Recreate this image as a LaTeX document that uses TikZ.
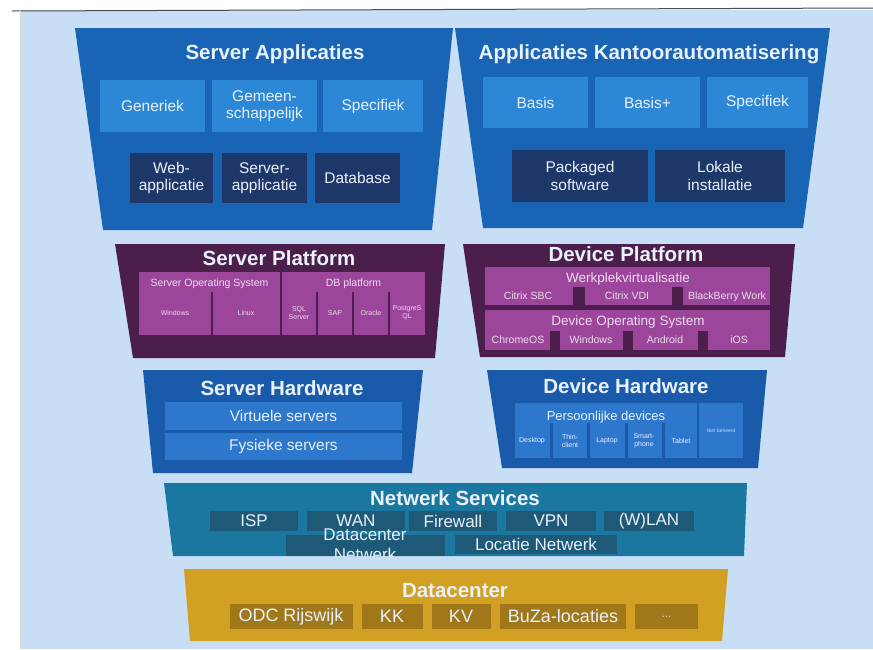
\documentclass[tikz,border=0pt]{standalone}
\usepackage{fontspec}
\setmainfont{Liberation Sans}
\definecolor{slidebg}{HTML}{C8DEF5}
\definecolor{appblue}{HTML}{1964B4}
\definecolor{applight}{HTML}{2D87D7}
\definecolor{appdark}{HTML}{1E3769}
\definecolor{platcol}{HTML}{4B1E4B}
\definecolor{platcell}{HTML}{9B469B}
\definecolor{hwblue}{HTML}{1A5AAA}
\definecolor{hwcell}{HTML}{2D78CD}
\definecolor{netcol}{HTML}{1A78A0}
\definecolor{netcell}{HTML}{1E5A78}
\definecolor{dccol}{HTML}{D2A023}
\definecolor{dccell}{HTML}{A07819}
\definecolor{txt}{HTML}{E9F1FB}
\definecolor{pinktxt}{HTML}{EEDCEE}

\begin{document}
\begin{tikzpicture}[x=1pt,y=-1pt,
   lyrtitle/.style={anchor=base,inner sep=0pt,text=txt,font=\bfseries\fontsize{20.5}{22}\selectfont},
   cell/.style={inner sep=0pt,align=center,text=txt,font=\fontsize{15.5}{17.5}\selectfont},
   plathead/.style={anchor=base,inner sep=0pt,text=pinktxt,font=\fontsize{#1}{#1}\selectfont},
   smalllbl/.style={inner sep=0pt,align=center,text=#1,font=\fontsize{7}{8}\selectfont},
   netlbl/.style={cell,fill=netcell,minimum height=20,font=\fontsize{17}{20}\selectfont},
   dclbl/.style={cell,fill=dccell,minimum height=25,font=\fontsize{18}{20}\selectfont}]
   \useasboundingbox (0,0) rectangle (873,649);
   % slide background
   \fill[white] (0,0) rectangle (873,649);
   \fill[slidebg] (20,10) rectangle (873,649);
   \draw[black!70,line width=1pt] (12,11) -- (873,8);
   \draw[black!15] (20,10) -- (20,649);

   % server applicaties
   \fill[appblue] (75,28) -- (453,28) -- (432,230) -- (103,230) -- cycle;
   \node[lyrtitle] (satitle) at (275,59) {Server Applicaties};
   \node[cell,fill=applight,minimum width=105,minimum height=52] (gen) at (152.5,106) {Generiek};
   \node[cell,fill=applight,minimum width=105,minimum height=52] (gem) at (264.5,106) {Gemeen-\\schappelijk};
   \node[cell,fill=applight,minimum width=100,minimum height=52] (saspec) at (373,106) {Specifiek};
   \node[cell,fill=appdark,minimum width=83,minimum height=50] (web) at (171.5,178) {Web-\\applicatie};
   \node[cell,fill=appdark,minimum width=85,minimum height=50] (srvapp) at (264.5,178) {Server-\\applicatie};
   \node[cell,fill=appdark,minimum width=85,minimum height=50] (db) at (357.5,178) {Database};

   % applicaties kantoorautomatisering
   \fill[appblue] (455,28) -- (830,28) -- (803,228) -- (483,228) -- cycle;
   \node[lyrtitle] (aktitle) at (649,59) {Applicaties Kantoorautomatisering};
   \node[cell,fill=applight,minimum width=105,minimum height=51] (basis) at (535.5,102.5) {Basis};
   \node[cell,fill=applight,minimum width=105,minimum height=51] (basisplus) at (647.5,102.5) {Basis+};
   \node[cell,fill=applight,minimum width=101,minimum height=51] (akspec) at (757.5,102.5) {Specifiek};
   \node[cell,fill=appdark,minimum width=136,minimum height=52] (packaged) at (580,176) {Packaged\\software};
   \node[cell,fill=appdark,minimum width=130,minimum height=52] (lokaal) at (720,176) {Lokale\\installatie};

   % server platform
   \fill[platcol] (115,244) -- (445,244) -- (435,358) -- (133,358) -- cycle;
   \node[lyrtitle] (sptitle) at (279,265) {Server Platform};
   \node[cell,fill=platcell,minimum width=141,minimum height=63] (sos) at (209.5,303.5) {};
   \node[cell,fill=platcell,minimum width=143,minimum height=63] (dbp) at (353.5,303.5) {};
   \node[plathead=10.5] (soshead) at (209.5,286) {Server Operating System};
   \node[plathead=10.5] (dbhead) at (353.5,286) {DB platform};
   \foreach \x in {212,317,353,389}
      \draw[platcol,line width=2.5pt] (\x,292) -- (\x,335);
   \foreach \x/\t in {175/Windows,246/Linux,299/{SQL\\Server},335/SAP,371/Oracle,407/{PostgreS\\QL}}
      \node[smalllbl=pinktxt] (sp-\x) at (\x,313) {\t};

   % device platform
   \fill[platcol] (463,244) -- (795,244) -- (785,357) -- (480,357) -- cycle;
   \node[lyrtitle] (dptitle) at (626,261) {Device Platform};
   \node[cell,fill=platcell,minimum width=285,minimum height=38] (wpv) at (627.5,286) {};
   \node[cell,fill=platcell,minimum width=285,minimum height=40] (dos) at (627.5,330) {};
   \node[plathead=13.5] (wpvhead) at (628,282) {Werkplekvirtualisatie};
   \node[plathead=13.5] (doshead) at (628,325) {Device Operating System};
   \foreach \a/\b in {573/585,672/683}
      \fill[platcol] (\a,287) rectangle (\b,305);
   \foreach \a/\b in {550/560,623/633,698/708}
      \fill[platcol] (\a,331) rectangle (\b,350);
   \foreach \x/\t in {528/Citrix SBC,627/Citrix VDI,727/BlackBerry Work}
      \node[plathead=10.5] (vw-\x) at (\x,299) {\t};
   \foreach \x/\t in {518/ChromeOS,591/Windows,665/Android,739/iOS}
      \node[plathead=10.5] (os-\x) at (\x,343) {\t};

   % server hardware
   \fill[hwblue] (143,370) -- (423,370) -- (412,473) -- (153,473) -- cycle;
   \node[lyrtitle] (shtitle) at (282,395) {Server Hardware};
   \node[cell,fill=hwcell,minimum width=237,minimum height=28] (virt) at (283.5,416) {Virtuele servers};
   \node[cell,fill=hwcell,minimum width=237,minimum height=27] (fys) at (283.5,446.5) {Fysieke servers};

   % device hardware
   \fill[hwblue] (487,370) -- (767,370) -- (758,468) -- (502,468) -- cycle;
   \node[lyrtitle] (dhtitle) at (626,393) {Device Hardware};
   \node[cell,fill=hwcell,minimum width=182,minimum height=55] (pers) at (606,430.5) {};
   \node[plathead=13,text=txt] (pershead) at (606,420) {Persoonlijke devices};
   \foreach \x in {551.5,588.5,626,663}
      \draw[hwblue,line width=3pt] (\x,423) -- (\x,458);
   \foreach \x/\t in {532/Desktop,570/{Thin-\\client},607/Laptop,644/{Smart-\\phone},681/Tablet}
      \node[smalllbl=txt] (dev-\x) at (\x,441) {\t};
   \node[cell,fill=hwcell,minimum width=44,minimum height=55,font=\fontsize{5}{6}\selectfont,text=txt!80!hwcell] (nietbeheerd) at (721,430.5) {Niet beheerd};

   % netwerk services
   \fill[netcol] (164,483) -- (747,483) -- (744,556) -- (173,556) -- cycle;
   \node[lyrtitle] (nstitle) at (455,505) {Netwerk Services};
   \foreach \x/\w/\t in {254/88/ISP,356/98/WAN,453/88/Firewall,551/90/VPN,649/90/(W)LAN}
      \node[netlbl,minimum width=\w] (net-\x) at (\x,521) {\t};
   \node[netlbl,minimum width=159,minimum height=21] (dcnet) at (365.5,545.5) {};
   \node[netlbl,minimum width=162,minimum height=19] (locnet) at (536,544.5) {Locatie Netwerk};
   \begin{scope}
      \clip (164,483) -- (747,483) -- (744,556) -- (173,556) -- cycle;
      \node[cell,font=\fontsize{17}{20}\selectfont] (dcnettext) at (365,544.5) {Datacenter\\Netwerk};
   \end{scope}

   % datacenter
   \fill[dccol] (184,569) -- (728,569) -- (722,641) -- (190,641) -- cycle;
   \node[lyrtitle] (dctitle) at (455,597) {Datacenter};
   \foreach \x/\w/\t in {291/123/ODC Rijswijk,392/61/KK,461/59/KV,563/126/BuZa-locaties}
      \node[dclbl,minimum width=\w] (dc-\x) at (\x,616.5) {\t};
   \node[dclbl,minimum width=63,font=\fontsize{12}{14}\selectfont,text=txt!70!dccell] (dcmore) at (666.5,616.5) {...};
\end{tikzpicture}
\end{document}
